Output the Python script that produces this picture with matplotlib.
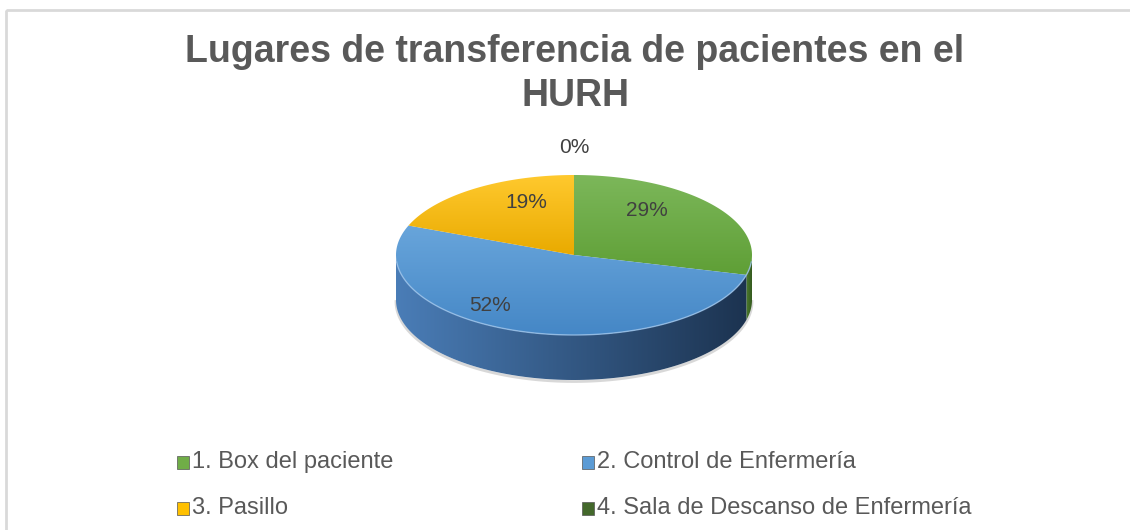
import numpy as np
import matplotlib.pyplot as plt
from matplotlib.patches import Polygon, Rectangle
from matplotlib.colors import LinearSegmentedColormap

plt.rcParams['font.family'] = ['Liberation Sans', 'DejaVu Sans']

# datos del grafico
titulo = "Lugares de transferencia de pacientes en el\nHURH"
categorias = ["1. Box del paciente", "2. Control de Enfermería",
              "3. Pasillo", "4. Sala de Descanso de Enfermería"]
porcentajes = [29, 52, 19, 0]

# estilos (colores tapa: claro/oscuro, lateral: claro/oscuro)
col_tapa = [("#7cb75a", "#5f9f36"), ("#68a5db", "#4587c6"),
            ("#ffc92e", "#e9aa00"), ("#4f7a35", "#3a5c25")]
col_lado = [("#4d7d2e", "#355a1f"), ("#4a7db7", "#1c3350"),
            ("#d09a00", "#a07500"), ("#3a5c25", "#2a4219")]
col_leyenda = ["#70ad47", "#5b9bd5", "#ffc000", "#43682b"]
# posicion de etiquetas relativa al centro (fraccion de rx, ry)
pos_etiquetas = [(0.41, -0.55), (-0.47, 0.63), (-0.27, -0.66), (0.0, -1.34)]

W, H = 1130, 530
fig = plt.figure(figsize=(W / 100, H / 100), dpi=100)
ax = fig.add_axes([0, 0, 1, 1])
ax.set_xlim(0, W)
ax.set_ylim(H, 0)
ax.axis('off')

# marco gris
ax.add_patch(Rectangle((5.5, 9.5), W, H, fill=False, edgecolor="#d9d9d9", lw=2))

cx, cy = 574, 255
rx, ry = 178, 80
prof = 45


def arco(a1, a2, n=120):
    t = np.radians(np.linspace(a1, a2, n))
    return cx + rx * np.cos(t), cy - ry * np.sin(t)


def degradado(poly, c1, c2, vertical=True):
    cmap = LinearSegmentedColormap.from_list("g", [c1, c2])
    g = np.linspace(0, 1, 256)
    img = g[:, None] if vertical else g[None, :]
    x0, y0 = poly.get_xy().min(axis=0)
    x1, y1 = poly.get_xy().max(axis=0)
    im = ax.imshow(img, cmap=cmap, extent=[x0, x1, y1, y0], aspect='auto',
                   interpolation='bilinear', zorder=poly.get_zorder())
    im.set_clip_path(poly)


total = float(sum(porcentajes))
bordes = 90 - 360 * np.concatenate([[0], np.cumsum(porcentajes)]) / total

# cara lateral (solo la mitad delantera es visible: angulos -180..0)
for i in range(len(porcentajes)):
    a_ini, a_fin = bordes[i], bordes[i + 1]
    lo, hi = max(a_fin, -180), min(a_ini, 0)
    if hi <= lo:
        continue
    xs, ys = arco(lo, hi)
    px = np.concatenate([xs, xs[::-1]])
    py = np.concatenate([ys, ys[::-1] + prof])
    poly = Polygon(np.column_stack([px, py]), closed=True, facecolor='none',
                   edgecolor='none', zorder=2)
    ax.add_patch(poly)
    degradado(poly, col_lado[i][0], col_lado[i][1], vertical=False)

# sombra suave bajo el borde
xs, ys = arco(-180, 0)
ax.plot(xs, ys + prof + 1.5, color="#bfbfbf", lw=2, alpha=0.6, zorder=1)

# tapa superior
for i in range(len(porcentajes)):
    a_ini, a_fin = bordes[i], bordes[i + 1]
    if a_ini == a_fin:
        continue
    xs, ys = arco(a_ini, a_fin)
    poly = Polygon(np.column_stack([np.r_[cx, xs], np.r_[cy, ys]]), closed=True,
                   facecolor='none', edgecolor='none', zorder=3)
    ax.add_patch(poly)
    degradado(poly, col_tapa[i][0], col_tapa[i][1])

# brillo en el borde delantero de la tapa
xs, ys = arco(-175, -5)
ax.plot(xs, ys, color="#9cc3ea", lw=1, alpha=0.8, zorder=4)

# etiquetas de porcentaje
for p, (fx, fy) in zip(porcentajes, pos_etiquetas):
    ax.text(cx + fx * rx, cy + fy * ry, f"{p}%", ha='center', va='center',
            fontsize=15, color="#404040", zorder=5)

# titulo
ax.text(575, 74, titulo, ha='center', va='center', fontsize=27,
        fontweight='bold', color="#595959", linespacing=1.3)

# leyenda (2 columnas)
col_x = [177, 582]
fila_y = [462, 508]
for i, (cat, c) in enumerate(zip(categorias, col_leyenda)):
    x = col_x[i % 2]
    y = fila_y[i // 2]
    ax.add_patch(Rectangle((x, y - 6.5), 12, 13, facecolor=c,
                           edgecolor="#555555", lw=0.5, zorder=5))
    ax.text(x + 15, y, cat, ha='left', va='center', fontsize=17,
            color="#595959")

fig.savefig("out.png", dpi=100)
